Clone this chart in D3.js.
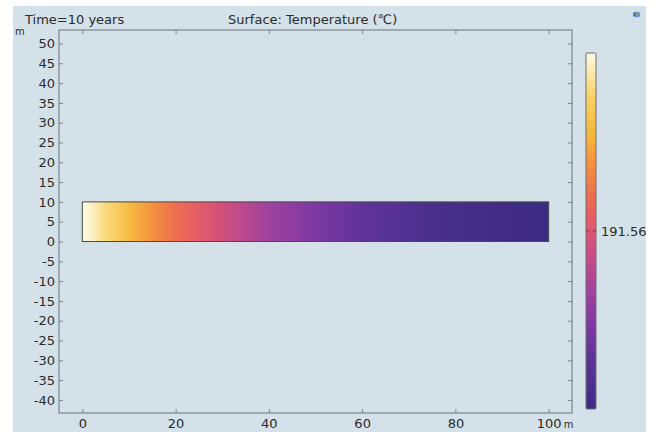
<!DOCTYPE html>
<html>
<head>
<meta charset="utf-8">
<script src="https://cdn.jsdelivr.net/npm/d3@7"></script>
<style>
  body { margin: 0; background: #fff; }
  text { font-family: "DejaVu Sans", sans-serif; fill: #2b2b2b; }
</style>
</head>
<body>
<svg id="chart" width="657" height="432"></svg>
<script>
// geometry of the model (m)
var domainX = [0, 100];
var domainY = [0, 10];

// temperature profile along x (°C)
var profileX = [0, 2, 5, 10, 15, 20, 25, 30, 35, 40, 45, 50, 55, 60, 65, 70, 75, 80, 90, 100];
var profileT = [191.5700, 191.5694, 191.5680, 191.5658, 191.5638, 191.5620, 191.5606, 191.5592,
	191.5578, 191.5566, 191.5556, 191.5546, 191.5538, 191.5530, 191.5524, 191.5518,
	191.5512, 191.5508, 191.5503, 191.5500];

// colour table, cold -> hot
var tRange = [191.550, 191.570];
var colorStops = ['#3d2a84', '#47308b', '#5c3398', '#7e38a4', '#a0429e', '#c44c88',
	'#e05670', '#ea6458', '#f07a48', '#f5963d', '#f6b73a', '#f8d060', '#fffbe6'];
var colorPos = [0, 0.05, 0.14, 0.235, 0.33, 0.42, 0.51, 0.57, 0.63, 0.70, 0.77, 0.87, 1];

// axis ticks
var xTicks = [0, 20, 40, 60, 80, 100];
var yTicks = [50, 45, 40, 35, 30, 25, 20, 15, 10, 5, 0, -5, -10, -15, -20, -25, -30, -35, -40];
var barTicks = [191.56];

var FONT = 13;
var svg = d3.select('#chart');

// panel background
svg.append('rect').attr('x', 13).attr('y', 6).attr('width', 633).attr('height', 426).attr('fill', '#d4e1e8');

var frame = {left: 59, right: 572, top: 30, bottom: 413};
var x = d3.scaleLinear().domain([-5, 105]).range([frame.left, frame.right]);
var y = d3.scaleLinear().domain([-43.3, 53.4]).range([frame.bottom, frame.top]);

var tval = d3.scaleLinear().domain([0, 1]).range(tRange);
var color = d3.scaleLinear()
	.domain(colorPos.map(function (p) { return tval(p); }))
	.range(colorStops)
	.interpolate(d3.interpolateRgb);

var defs = svg.append('defs');

// surface gradient along x
var surf = defs.append('linearGradient').attr('id', 'surf')
	.attr('x1', '0%').attr('x2', '100%').attr('y1', '0%').attr('y2', '0%');
surf.selectAll('stop').data(profileX).enter().append('stop')
	.attr('offset', function (d) { return (d - domainX[0]) / (domainX[1] - domainX[0]); })
	.attr('stop-color', function (d, i) { return color(profileT[i]); });

// colour bar gradient (bottom cold, top hot)
var barGrad = defs.append('linearGradient').attr('id', 'bar')
	.attr('x1', '0%').attr('x2', '0%').attr('y1', '100%').attr('y2', '0%');
barGrad.selectAll('stop').data(colorPos).enter().append('stop')
	.attr('offset', function (d) { return d; })
	.attr('stop-color', function (d, i) { return colorStops[i]; });

// surface
svg.append('rect')
	.attr('x', x(domainX[0])).attr('y', y(domainY[1]))
	.attr('width', x(domainX[1]) - x(domainX[0]))
	.attr('height', y(domainY[0]) - y(domainY[1]))
	.attr('fill', 'url(#surf)')
	.attr('stroke', '#4a4a4a').attr('stroke-width', 1);

// axes, ticks inside on all four sides
var axisColor = '#7b848c';
var plain = function (d) { return String(d); };
var g = svg.append('g');
g.append('rect')
	.attr('x', frame.left).attr('y', frame.top)
	.attr('width', frame.right - frame.left).attr('height', frame.bottom - frame.top)
	.attr('fill', 'none').attr('stroke', axisColor).attr('stroke-width', 1.2);

var axBottom = g.append('g').attr('transform', 'translate(0,' + frame.bottom + ')')
	.call(d3.axisBottom(x).tickValues(xTicks).tickFormat(plain).tickSizeInner(-4).tickSizeOuter(0).tickPadding(6));
var axTop = g.append('g').attr('transform', 'translate(0,' + frame.top + ')')
	.call(d3.axisTop(x).tickValues(xTicks).tickSizeInner(-4).tickSizeOuter(0).tickFormat(''));
var axLeft = g.append('g').attr('transform', 'translate(' + frame.left + ',0)')
	.call(d3.axisLeft(y).tickValues(yTicks).tickFormat(plain).tickSizeInner(-4).tickSizeOuter(0).tickPadding(4));
var axRight = g.append('g').attr('transform', 'translate(' + frame.right + ',0)')
	.call(d3.axisRight(y).tickValues(yTicks).tickSizeInner(-4).tickSizeOuter(0).tickFormat(''));

[axBottom, axTop, axLeft, axRight].forEach(function (a) {
	a.select('.domain').remove();
	a.selectAll('line').attr('stroke', axisColor);
	a.selectAll('text').attr('font-family', '"DejaVu Sans", sans-serif')
		.attr('font-size', FONT).attr('fill', '#2b2b2b');
});
axBottom.selectAll('text').attr('dy', '0.7em');

// unit labels
svg.append('text').attr('x', 15).attr('y', 35).attr('font-size', 10).text('m');
svg.append('text').attr('x', x(100) + 15).attr('y', 428).attr('font-size', 10).text('m');

// titles
svg.append('text').attr('x', 25).attr('y', 24).attr('font-size', FONT).text('Time=10 years');
svg.append('text').attr('x', 228).attr('y', 24).attr('font-size', FONT).text('Surface: Temperature (\u2103)');

// colour bar
var bar = {x: 586, w: 10, top: 53, bottom: 409};
var by = d3.scaleLinear().domain(tRange).range([bar.bottom, bar.top]);
svg.append('rect')
	.attr('x', bar.x).attr('y', bar.top).attr('width', bar.w).attr('height', bar.bottom - bar.top)
	.attr('fill', 'url(#bar)').attr('stroke', '#6f6f6f').attr('stroke-width', 1).attr('rx', 1);

var bt = svg.append('g').selectAll('g').data(barTicks).enter().append('g');
bt.append('line').attr('x1', bar.x).attr('x2', bar.x + 3)
	.attr('y1', function (d) { return by(d); }).attr('y2', function (d) { return by(d); })
	.attr('stroke', '#7a3050');
bt.append('line').attr('x1', bar.x + bar.w - 3).attr('x2', bar.x + bar.w)
	.attr('y1', function (d) { return by(d); }).attr('y2', function (d) { return by(d); })
	.attr('stroke', '#7a3050');
bt.append('text').attr('x', bar.x + bar.w + 5).attr('y', function (d) { return by(d); })
	.attr('dy', '0.35em').attr('font-size', FONT)
	.text(function (d) { return d3.format('.2f')(d); });

// small toolbar icon, top right
svg.append('rect').attr('x', 633).attr('y', 12).attr('width', 7).attr('height', 5).attr('rx', 1.5)
	.attr('fill', '#2f6fc4').attr('stroke', '#a9c4e6').attr('stroke-width', 1);
svg.append('rect').attr('x', 636).attr('y', 13.5).attr('width', 2.5).attr('height', 2).attr('fill', '#d9c04a');
</script>
</body>
</html>
